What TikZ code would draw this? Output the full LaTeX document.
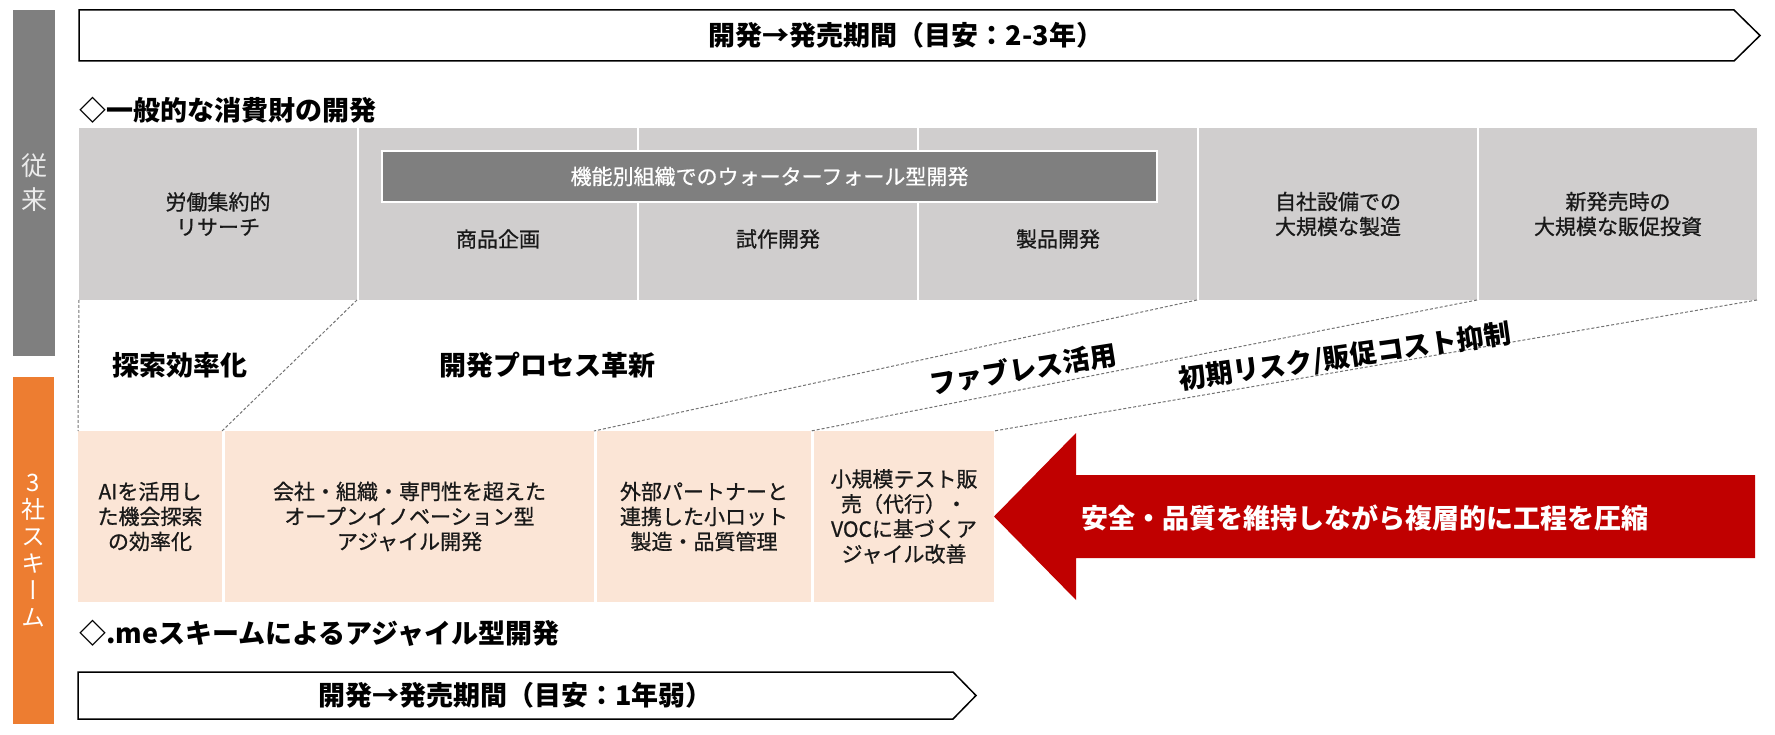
\documentclass[tikz,border=0pt]{standalone}
\usepackage{fontspec}
\setmainfont{Noto Sans CJK JP}
\newfontfamily\vjp{Noto Sans CJK JP}[RawFeature=+vert]
\newfontfamily\jpmed{Noto Sans CJK JP}[FakeBold=0.8]
\usetikzlibrary{positioning}

\definecolor{bargray}{HTML}{7F7F7F}
\definecolor{colgray}{HTML}{D0CECE}
\definecolor{schemeorange}{HTML}{ED7D31}
\definecolor{peach}{HTML}{FBE5D6}
\definecolor{darkred}{HTML}{C00000}

\tikzset{
    txt/.style={font=\jpmed\fontsize{21}{25}\selectfont, align=center, text=black!90},
    lbl/.style={font=\bfseries\fontsize{27}{32}\selectfont, inner sep=0pt},
    col/.style={fill=colgray, minimum width=278, minimum height=172, outer sep=0pt, txt},
    box/.style={fill=peach, minimum height=171, outer sep=0pt, txt},
    guide/.style={black!55, line width=1pt, dash pattern=on 3pt off 2pt},
    period/.style={draw=black, line width=1.5pt, fill=white},
}

\begin{document}
\begin{tikzpicture}[x=1pt, y=-1pt]
    \useasboundingbox (0,0) rectangle (1775,735);

    \draw[period] (79,10) -- (1734,10) -- (1760,35.5) -- (1734,61) -- (79,61) -- cycle;
    \node[lbl] (longterm) at (906,35.5) {開発→発売期間（目安：2-3年）};

    \node[fill=bargray, minimum width=42, minimum height=346, outer sep=0pt, text=white!92!black,
        font=\fontsize{26}{34}\selectfont, align=center] (old) at (34,183) {従\\来};
    \node[lbl, anchor=west] (conv) at (79,110) {◇一般的な消費財の開発};

    \node[col] (research) at (218,214) {労働集約的\\リサーチ};
    \node[col, right=2pt of research] (plan) {};
    \node[col, right=2pt of plan] (proto) {};
    \node[col, right=2pt of proto] (dev) {};
    \node[col, right=2pt of dev] (factory) {自社設備での\\大規模な製造};
    \node[col, right=2pt of factory] (promo) {新発売時の\\大規模な販促投資};
    \node[txt] (plantxt) at ([yshift=-25pt]plan.center) {商品企画};
    \node[txt] (prototxt) at ([yshift=-25pt]proto.center) {試作開発};
    \node[txt] (devtxt) at ([yshift=-25pt]dev.center) {製品開発};
    \node[fill=bargray, draw=white, line width=1.5pt, minimum width=775, minimum height=51, txt, text=white]
        (waterfall) at (769.5,176.5) {機能別組織でのウォーターフォール型開発};

    \node[box, minimum width=144] (ai) at (150,516.5) {AIを活用し\\た機会探索\\の効率化};
    \node[box, minimum width=369, right=3pt of ai] (open) {会社・組織・専門性を超えた\\オープンイノベーション型\\アジャイル開発};
    \node[box, minimum width=214, right=3pt of open] (partner) {外部パートナーと\\連携した小ロット\\製造・品質管理};
    \node[box, minimum width=180, right=3pt of partner] (test) {小規模テスト販\\売（代行）・\\VOCに基づくア\\ジャイル改善};

    \draw[guide] (research.south west) -- (ai.north west);
    \draw[guide] (research.south east) -- (ai.north east);
    \draw[guide] (dev.south east) -- (open.north east);
    \draw[guide] (factory.south east) -- (partner.north east);
    \draw[guide] (promo.south east) -- (test.north east);

    \node[lbl] (search) at (180,365) {探索効率化};
    \node[lbl] (process) at (547,365) {開発プロセス革新};
    \node[lbl, rotate=9] (fabless) at (1023,369) {ファブレス活用};
    \node[lbl, rotate=8] (risk) at (1345,357) {初期リスク/販促コスト抑制};

    \fill[darkred] (test.east) -- ++(82,-83.5) -- ++(0,42) -- ++(679,0) -- ++(0,83) -- ++(-679,0) -- ++(0,42) -- cycle;
    \node[lbl, text=white] (squeeze) at (1365,518) {安全・品質を維持しながら複層的に工程を圧縮};

    \node[fill=schemeorange, minimum width=41, minimum height=347, outer sep=0pt, text=white,
        font=\vjp\fontsize{24}{27}\selectfont, align=center] (scheme) at (33.5,550.5) {3\\社\\ス\\キ\\ー\\ム};
    \node[lbl, anchor=west] (agile) at (79,633) {◇.meスキームによるアジャイル型開発};

    \draw[period] (78,672) -- (953,672) -- (976,695.5) -- (953,719) -- (78,719) -- cycle;
    \node[lbl] (shortterm) at (515.5,695.5) {開発→発売期間（目安：1年弱）};
\end{tikzpicture}
\end{document}
